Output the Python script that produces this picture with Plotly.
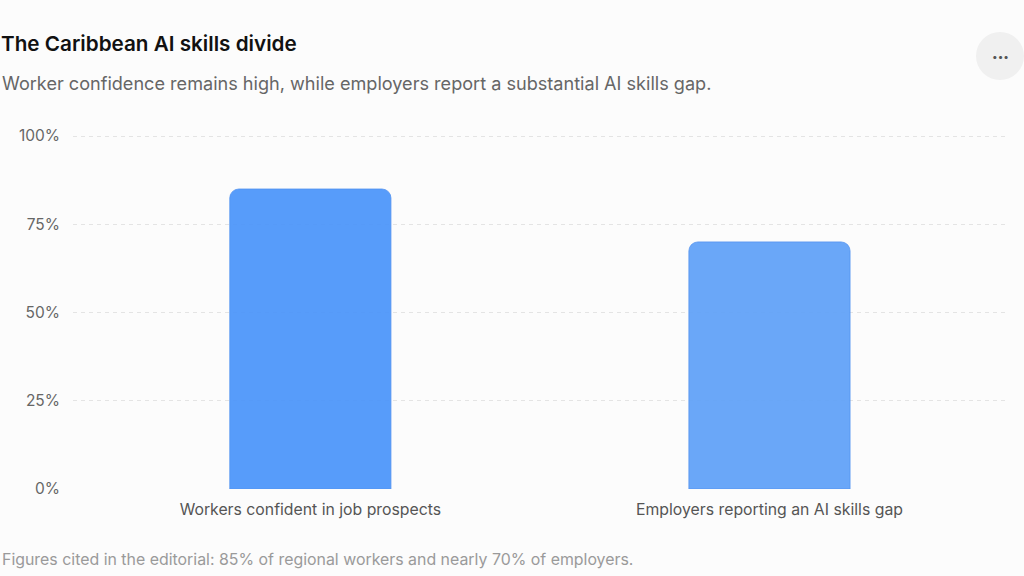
import plotly.graph_objects as go

categories = ["Workers confident in job prospects", "Employers reporting an AI skills gap"]
values = [85, 70]
bar_colors = ["#4f97fa", "#63a3f8"]
y_ticks = [0, 25, 50, 75, 100]
y_tick_labels = ["0%", "25%", "50%", "75%", "100%"]

title = "The Caribbean AI skills divide"
subtitle = "Worker confidence remains high, while employers report a substantial AI skills gap."
footer = "Figures cited in the editorial: 85% of regional workers and nearly 70% of employers."

W, H = 1024, 576
L, R, T, B = 73, 19, 135, 87
pw, ph = W - L - R, H - T - B


def px_x(x):
    return (x - L) / pw


def px_y(y):
    return (H - B - y) / ph


fig = go.Figure()
fig.add_trace(go.Bar(
    x=[0, 1],
    y=values,
    width=0.351,
    marker=dict(color=bar_colors, cornerradius=9,
                line=dict(color="#4a8ef0", width=0.8)),
    opacity=0.95,
    hovertemplate="%{customdata}: %{y}%<extra></extra>",
    customdata=categories,
))

fig.update_layout(
    width=W, height=H,
    margin=dict(l=L, r=R, t=T, b=B),
    paper_bgcolor="#fcfcfc",
    plot_bgcolor="#fcfcfc",
    font=dict(family="Inter, Roboto, sans-serif", color="#666666", size=15),
    showlegend=False,
    title=dict(text=title, xref="container", yref="container",
               x=1 / W, xanchor="left", y=1 - 44 / H, yanchor="middle",
               font=dict(size=20.7, color="#111111", weight=600)),
    xaxis=dict(range=[-0.517, 1.513], tickvals=[0, 1], ticktext=categories,
               showgrid=False, zeroline=False, showline=False,
               ticks="", ticklabelstandoff=9,
               tickfont=dict(size=15.8, color="#555555"), fixedrange=True),
    yaxis=dict(range=[0, 100.3], tickvals=y_ticks, ticktext=y_tick_labels,
               showgrid=True, gridcolor="#e4e4e4", griddash="4px,4px", gridwidth=1,
               zeroline=False, showline=False, ticks="", ticklabelstandoff=12,
               tickfont=dict(size=15.5, color="#666666"), fixedrange=True),
    annotations=[
        dict(text=subtitle, xref="paper", yref="paper", x=px_x(0), y=px_y(83),
             xanchor="left", yanchor="middle", showarrow=False,
             font=dict(size=18.1, color="#666666")),
        dict(text=footer, xref="paper", yref="paper", x=px_x(0), y=px_y(559),
             xanchor="left", yanchor="middle", showarrow=False,
             font=dict(size=15.9, color="#9a9a9a")),
        dict(text="•••", xref="paper", yref="paper", x=px_x(1000), y=px_y(56),
             xanchor="center", yanchor="middle", showarrow=False,
             font=dict(size=10, color="#555555")),
    ],
    shapes=[
        dict(type="circle", xref="paper", yref="paper",
             x0=px_x(976), x1=px_x(1024), y0=px_y(32), y1=px_y(80),
             fillcolor="#f0f0f0", line=dict(width=0), layer="below"),
    ],
)

fig.write_html("out.html", config={"displayModeBar": False},
               post_script="document.body.style.margin='0';")
